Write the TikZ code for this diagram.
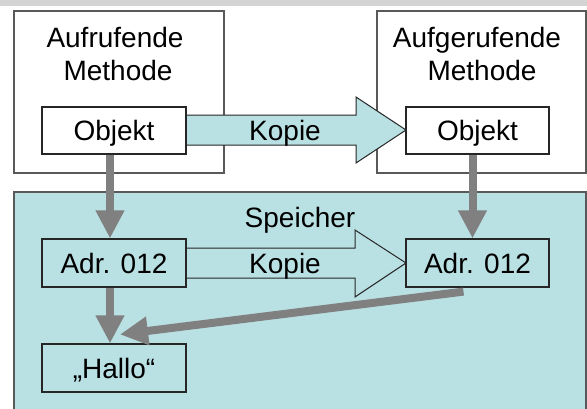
\documentclass[tikz,border=0pt]{standalone}
\usepackage{fontspec}
\setmainfont{Liberation Sans}
\usetikzlibrary{arrows.meta,calc}
\definecolor{memfill}{RGB}{185,224,227}
\definecolor{ptrgray}{RGB}{128,128,128}
\definecolor{bandgray}{RGB}{212,212,212}
\begin{document}
\begin{tikzpicture}[x=1pt,y=-1pt,
  txt/.style={font=\fontsize{28}{33}\selectfont, inner sep=0pt},
  lab/.style={txt, text height=20pt, text depth=0pt},
  cell/.style={lab, draw=black!85, line width=1.2pt, minimum width=144pt, minimum height=47pt},
  frame/.style={draw=black!65, line width=1.2pt},
  ptr/.style={draw=ptrgray, line width=8pt, -{Triangle[width=27pt,length=28pt]}},
  copyarrow/.style={draw=black!85, line width=1pt, line join=miter, fill=memfill}]
\useasboundingbox (0,0) rectangle (587,408);

% header band
\fill[bandgray] (0,0) rectangle (587,6);

% method frames and the memory area
\draw[frame, fill=white] (14,11) rectangle (224,173);
\draw[frame, fill=white] (377,11) rectangle (586,173);
\draw[frame, fill=memfill] (14,192) rectangle (586,420);

% titles
\node[txt, anchor=base] (tL1) at (115,47) {Aufrufende};
\node[txt, anchor=base] (tL2) at (118,80) {Methode};
\node[txt, anchor=base] (tR1) at (477,47) {Aufgerufende};
\node[txt, anchor=base] (tR2) at (482,80) {Methode};
\node[txt, anchor=base] (mem) at (300,227) {Speicher};

% block arrows for the copies
\draw[copyarrow] (186,115) -- (356,115) -- (356,97) -- (406,130) -- (356,163) -- (356,145) -- (186,145);
\draw[copyarrow] (186,248) -- (355,248) -- (355,230) -- (406,263) -- (355,297) -- (355,278) -- (186,278);
\node[lab] (k1) at (285,130) {Kopie};
\node[lab] (k2) at (285,263) {Kopie};

% cells
\node[cell, fill=white] (objL) at (114,130.5) {Objekt};
\node[cell, fill=white, minimum width=143pt] (objR) at (477.5,130.5) {Objekt};
\node[cell, fill=memfill, minimum height=48pt] (adrL) at (114,263) {Adr. 012};
\node[cell, fill=memfill, minimum height=48pt, minimum width=143pt] (adrR) at (477.5,263) {Adr. 012};
\node[cell, fill=memfill, minimum height=48pt] (hallo) at (114,368) {„Hallo“};

% references
\draw[ptr] ($(objL.south)+(-4,0)$) -- ($(adrL.north)+(-4,0)$);
\draw[ptr] ($(objR.south)+(-5,0)$) -- ($(adrR.north)+(-5,0)$);
\draw[ptr] ($(adrL.south)+(-4,0)$) -- ($(hallo.north)+(-4,0)$);
\draw[ptr] ($(adrR.south)+(-14,4)$) -- ($(hallo.north)+(6,-9)$);
\end{tikzpicture}
\end{document}
